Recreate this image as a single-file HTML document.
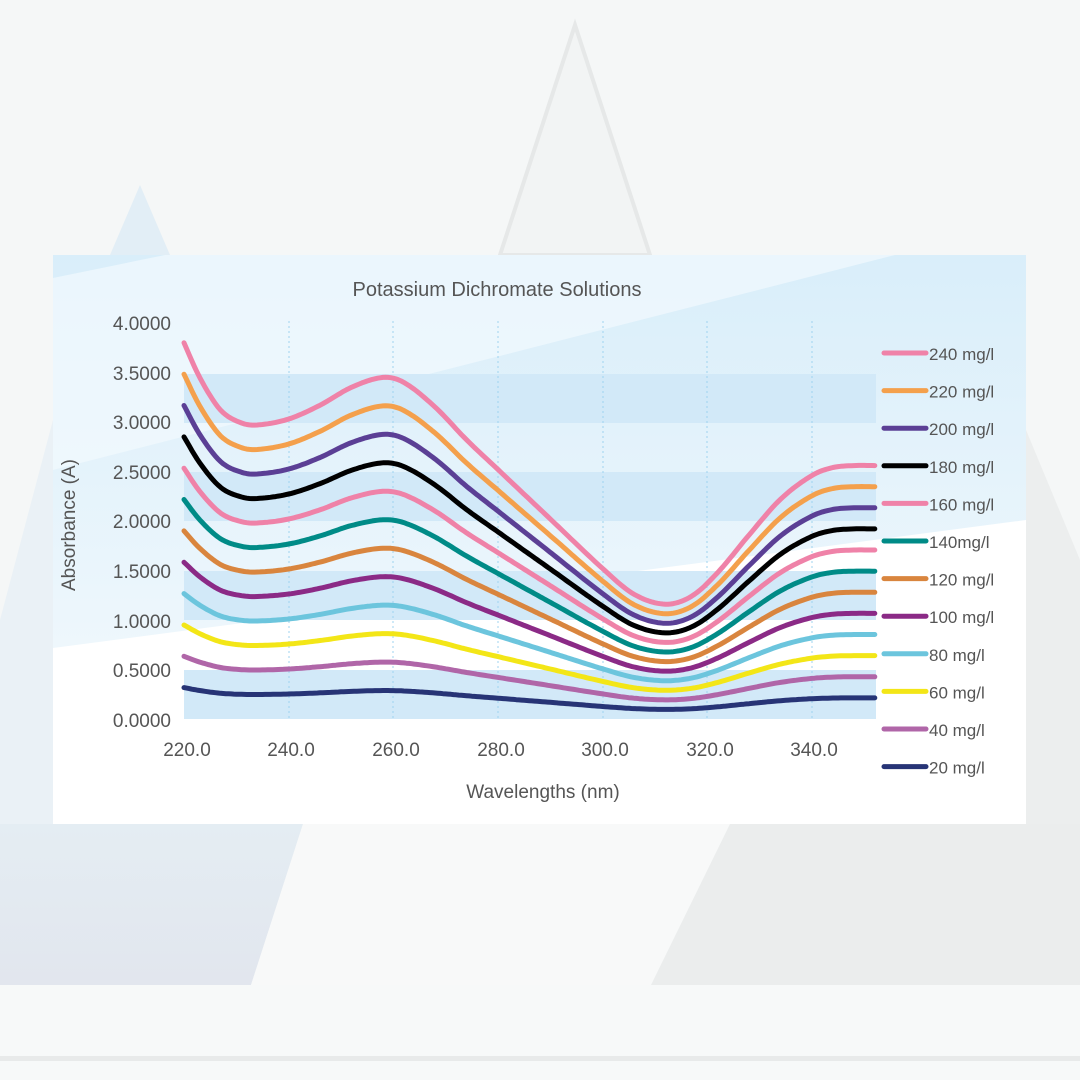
<!DOCTYPE html>
<html><head><meta charset="utf-8"><style>
html,body{margin:0;padding:0;background:#f5f7f7;}
svg{display:block;font-family:"Liberation Sans",sans-serif;}
</style></head><body>
<svg id="s" width="1080" height="1080" viewBox="0 0 1080 1080" xmlns="http://www.w3.org/2000/svg">
<defs>
<linearGradient id="pb" x1="0" y1="0" x2="0" y2="1">
<stop offset="0" stop-color="#d9eefa"/><stop offset="1" stop-color="#eef7fc"/></linearGradient>
<linearGradient id="lb" x1="0" y1="0" x2="0" y2="1">
<stop offset="0" stop-color="#e4edf3"/><stop offset="1" stop-color="#e2e6ee"/></linearGradient>
</defs>
<rect width="1080" height="1080" fill="#f5f7f7"/>
<!-- background mountains -->
<polygon points="575,25 500,255 650,255" fill="#f2f4f4" stroke="#e6e8e8" stroke-width="4"/>
<polygon points="140,185 110,255 170,255" fill="#e2eef6"/>
<polygon points="0,620 53,420 53,824 0,824" fill="#eaf1f6"/>
<polygon points="1026,430 1080,560 1080,824 1026,824" fill="#eceeee"/>
<polygon points="0,824 303,824 251,985 0,985" fill="url(#lb)"/>
<polygon points="303,824 730,824 651,985 251,985" fill="#f8f9f9"/>
<polygon points="730,824 1080,824 1080,985 651,985" fill="#ebeded"/>
<rect x="0" y="985" width="1080" height="95" fill="#f7f9f9"/>
<rect x="0" y="1056" width="1080" height="5" fill="#e8eaea"/>
<!-- panel -->
<rect x="53" y="255" width="973" height="569" fill="#ffffff"/>
<polygon points="53,255 1026,255 1026,520 53,648" fill="url(#pb)"/>
<polygon points="53,278 165,255 895,255 53,470" fill="#f2f9fd" opacity="0.7"/>
<!-- bands -->
<g fill="#d2e9f8">
<rect x="184" y="374" width="692" height="49"/>
<rect x="184" y="472" width="692" height="49"/>
<rect x="184" y="571" width="692" height="49"/>
<rect x="184" y="670" width="692" height="49"/>
</g>
<g stroke="#9fd3ef" stroke-width="1" stroke-dasharray="2,3">
<line x1="289" y1="321" x2="289" y2="719"/><line x1="393" y1="321" x2="393" y2="719"/>
<line x1="498" y1="321" x2="498" y2="719"/><line x1="603" y1="321" x2="603" y2="719"/>
<line x1="707" y1="321" x2="707" y2="719"/><line x1="812" y1="321" x2="812" y2="719"/>
</g>
<text x="497" y="296" font-size="20" fill="#555" text-anchor="middle">Potassium Dichromate Solutions</text>
<g font-size="19" fill="#555" text-anchor="end">
<text x="171" y="330">4.0000</text><text x="171" y="380">3.5000</text><text x="171" y="429">3.0000</text>
<text x="171" y="479">2.5000</text><text x="171" y="528">2.0000</text><text x="171" y="578">1.5000</text>
<text x="171" y="628">1.0000</text><text x="171" y="677">0.5000</text><text x="171" y="727">0.0000</text>
</g>
<g font-size="19" fill="#555" text-anchor="middle">
<text x="187" y="756">220.0</text><text x="291" y="756">240.0</text><text x="396" y="756">260.0</text>
<text x="501" y="756">280.0</text><text x="605" y="756">300.0</text><text x="710" y="756">320.0</text><text x="814" y="756">340.0</text>
</g>
<text x="543" y="798" font-size="19" fill="#555" text-anchor="middle">Wavelengths (nm)</text>
<text transform="translate(75,525) rotate(-90)" font-size="19" fill="#555" text-anchor="middle">Absorbance (A)</text>
<g id="curves"></g>
<g id="legend" font-size="17" fill="#555"></g>
</svg>
<script>
var pts=[[220,3.80],[223,3.45],[227,3.12],[231,2.99],[234,2.97],[240,3.03],[246,3.17],[252,3.35],[258,3.45],[262,3.40],[268,3.15],[274,2.82],[280,2.52],[290,2.02],[300,1.52],[306,1.26],[312,1.16],[317,1.24],[322,1.48],[328,1.86],[334,2.22],[340,2.46],[344,2.54],[348,2.56],[352,2.56]];
function interp(x){for(var i=0;i<pts.length-1;i++){var a=pts[i],b=pts[i+1];if(x<=b[0]){var p0=pts[Math.max(i-1,0)],p3=pts[Math.min(i+2,pts.length-1)];var t=(x-a[0])/(b[0]-a[0]);var h=b[0]-a[0];var m1=(b[1]-p0[1])/(b[0]-p0[0])*h,m2=(p3[1]-a[1])/(p3[0]-a[0])*h;var t2=t*t,t3=t2*t;return (2*t3-3*t2+1)*a[1]+(t3-2*t2+t)*m1+(-2*t3+3*t2)*b[1]+(t3-t2)*m2;}}return pts[pts.length-1][1];}
var series=[[240,"#ef82a8","240 mg/l"],[220,"#f4a04c","220 mg/l"],[200,"#5b3f95","200 mg/l"],[180,"#000000","180 mg/l"],[160,"#ef82a8","160 mg/l"],[140,"#008b87","140mg/l"],[120,"#d9853e","120 mg/l"],[100,"#8b2a86","100 mg/l"],[80,"#6cc5dd","80 mg/l"],[60,"#f3e617","60 mg/l"],[40,"#b066a8","40 mg/l"],[20,"#273476","20 mg/l"]];
var ns="http://www.w3.org/2000/svg",g=document.getElementById("curves"),lg=document.getElementById("legend");
series.forEach(function(s,i){var k=s[0]/240,d="";for(var x=220;x<=352.2;x+=0.5){var px=184+(x-220)*5.233,py=719-interp(x)*k*99;d+=(d?"L":"M")+px.toFixed(1)+","+py.toFixed(1);}
var p=document.createElementNS(ns,"path");p.setAttribute("d",d);p.setAttribute("fill","none");p.setAttribute("stroke",s[1]);p.setAttribute("stroke-width","5");p.setAttribute("stroke-linecap","round");p.setAttribute("stroke-linejoin","round");g.appendChild(p);
var y=353+i*37.6;var l=document.createElementNS(ns,"line");l.setAttribute("x1",884);l.setAttribute("x2",926);l.setAttribute("y1",y);l.setAttribute("y2",y);l.setAttribute("stroke",s[1]);l.setAttribute("stroke-width","5");l.setAttribute("stroke-linecap","round");lg.appendChild(l);
var t=document.createElementNS(ns,"text");t.setAttribute("x",929);t.setAttribute("y",y+7);t.textContent=s[2];lg.appendChild(t);});
</script>
</body></html>
